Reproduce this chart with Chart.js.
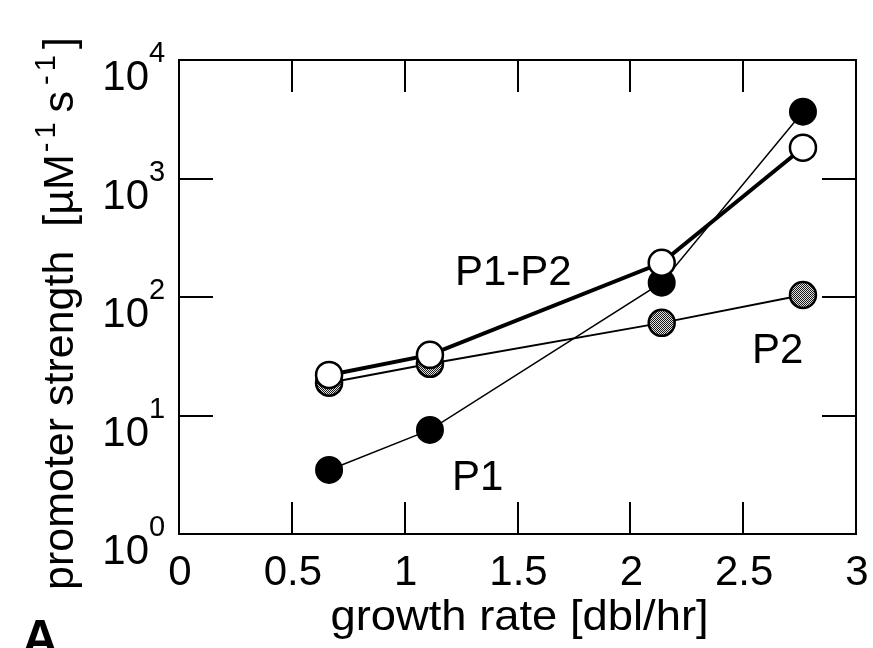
<!DOCTYPE html>
<html><head><meta charset="utf-8">
<script src="https://cdn.jsdelivr.net/npm/chart.js@4.4.0/dist/chart.umd.min.js"></script>
<style>html,body{margin:0;padding:0;background:#fff}#wrap{width:873px;height:648px;position:relative}</style>
</head><body><div id="wrap"><canvas id="c" width="873" height="648"></canvas></div>
<script>
// ---- data ----
const growthRate = [0.665, 1.112, 2.139, 2.765];
const p1Values = [3.47, 7.56, 132, 3665];
const p2Values = [18.9, 27.3, 60.5, 104];
const p1p2Values = [22.0, 32.5, 194.5, 1820];
const xTicks = [0, 0.5, 1, 1.5, 2, 2.5, 3];
const xTickLabels = ['0', '0.5', '1', '1.5', '2', '2.5', '3'];
const yTickExponents = [0, 1, 2, 3, 4];
const seriesNames = ['P1', 'P2', 'P1-P2'];
const xTitle = 'growth rate [dbl/hr]';
const panelLetter = 'A';

const FONT = '"Liberation Sans", Arial, Helvetica, sans-serif';
const canvas = document.getElementById('c');
const ctx = canvas.getContext('2d');

function stipple() {
  const c = document.createElement('canvas');
  c.width = 2; c.height = 2;
  const g = c.getContext('2d');
  g.fillStyle = '#e0e0e0'; g.fillRect(0, 0, 2, 2);
  g.fillStyle = '#1a1a1a'; g.fillRect(0, 0, 1, 1); g.fillRect(1, 1, 1, 1);
  return ctx.createPattern(c, 'repeat');
}
const toPts = vals => growthRate.map((x, i) => ({ x: x, y: vals[i] }));

// label anchors in data coordinates
const seriesLabelAnchors = { 'P1': [1.21, 2.35], 'P2': [2.539, 27.8], 'P1-P2': [1.223, 127] };

const framePlugin = {
  id: 'frame',
  beforeDatasetsDraw(chart) {
    const c = chart.ctx, a = chart.chartArea, xs = chart.scales.x, ys = chart.scales.y;
    c.save();
    c.strokeStyle = '#000'; c.lineWidth = 2;
    c.strokeRect(a.left, a.top, a.right - a.left, a.bottom - a.top);
    c.beginPath();
    xTicks.forEach(v => {
      const px = Math.round(xs.getPixelForValue(v));
      c.moveTo(px, a.bottom); c.lineTo(px, a.bottom - 32);
      c.moveTo(px, a.top); c.lineTo(px, a.top + 32);
    });
    yTickExponents.forEach(e => {
      const py = Math.round(ys.getPixelForValue(Math.pow(10, e)));
      c.moveTo(a.left, py); c.lineTo(a.left + 34, py);
      c.moveTo(a.right, py); c.lineTo(a.right - 34, py);
    });
    c.stroke();
    c.restore();
  },
  afterDraw(chart) {
    const c = chart.ctx, a = chart.chartArea, xs = chart.scales.x, ys = chart.scales.y;
    c.save();
    c.fillStyle = '#000';
    // x tick labels
    c.font = '42px ' + FONT; c.textAlign = 'center'; c.textBaseline = 'alphabetic';
    xTicks.forEach((v, i) => c.fillText(xTickLabels[i], xs.getPixelForValue(v) + 1, a.bottom + 51));
    // y tick labels 10^n
    yTickExponents.forEach(e => {
      const py = ys.getPixelForValue(Math.pow(10, e));
      c.font = '42px ' + FONT; c.textAlign = 'right';
      c.fillText('10', a.left - 30, py + 30);
      c.font = '29px ' + FONT; c.textAlign = 'left';
      c.fillText(String(e), a.left - 30, py + 2);
    });
    // x title (slightly wide, as in the reference)
    c.save();
    c.font = '42px ' + FONT; c.textAlign = 'center';
    c.translate((a.left + a.right) / 2 + 2, 630);
    c.scale(1.08, 1);
    c.fillText(xTitle, 0, 0);
    c.restore();
    // y title, rotated
    const parts = [
      ['promoter strength  [\u00b5M', false, 2], ['-', true, 4], ['1', true, 10], ['s', false, 6], ['-', true, 4], ['1', true, 6], [']', false, 0]
    ];
    c.save();
    c.translate(73, 590);
    c.rotate(-Math.PI / 2);
    c.textAlign = 'left';
    let xx = 0;
    parts.forEach(([t, sup, gap]) => {
      c.font = (sup ? '29px ' : '43px ') + FONT;
      c.fillText(t, xx, sup ? -18 : 0);
      xx += c.measureText(t).width + gap;
    });
    c.restore();
    // series labels
    c.font = '42px ' + FONT; c.textAlign = 'left';
    seriesNames.forEach(n => {
      const an = seriesLabelAnchors[n];
      c.fillText(n, xs.getPixelForValue(an[0]), ys.getPixelForValue(an[1]));
    });
    // panel letter (cut off at the bottom edge, as in the reference)
    c.font = 'bold 50px ' + FONT;
    c.fillText(panelLetter, 22, 655);
    c.restore();
  }
};

new Chart(ctx, {
  type: 'line',
  data: {
    datasets: [
      { label: 'P1-P2', data: toPts(p1p2Values), borderColor: '#000', borderWidth: 4,
        pointRadius: 13, pointBackgroundColor: '#fff', pointBorderColor: '#000', pointBorderWidth: 2.5, order: 0 },
      { label: 'P1', data: toPts(p1Values), borderColor: '#000', borderWidth: 1.5,
        pointRadius: 13, pointBackgroundColor: '#000', pointBorderColor: '#000', pointBorderWidth: 2, order: 1 },
      { label: 'P2', data: toPts(p2Values), borderColor: '#000', borderWidth: 2,
        pointRadius: 13, pointBackgroundColor: stipple(), pointBorderColor: '#000', pointBorderWidth: 2.5, order: 2 }
    ]
  },
  options: {
    responsive: false, animation: false,
    layout: { padding: { left: 179, right: 17, top: 60, bottom: 114 } },
    plugins: { legend: { display: false }, tooltip: { enabled: false } },
    scales: {
      x: { type: 'linear', min: 0, max: 3, ticks: { display: false }, grid: { display: false },
           border: { display: false }, afterFit: s => { s.height = 0; } },
      y: { type: 'logarithmic', min: 1, max: 10000, ticks: { display: false }, grid: { display: false },
           border: { display: false }, afterFit: s => { s.width = 0; } }
    }
  },
  plugins: [framePlugin]
});
</script>
</body></html>
